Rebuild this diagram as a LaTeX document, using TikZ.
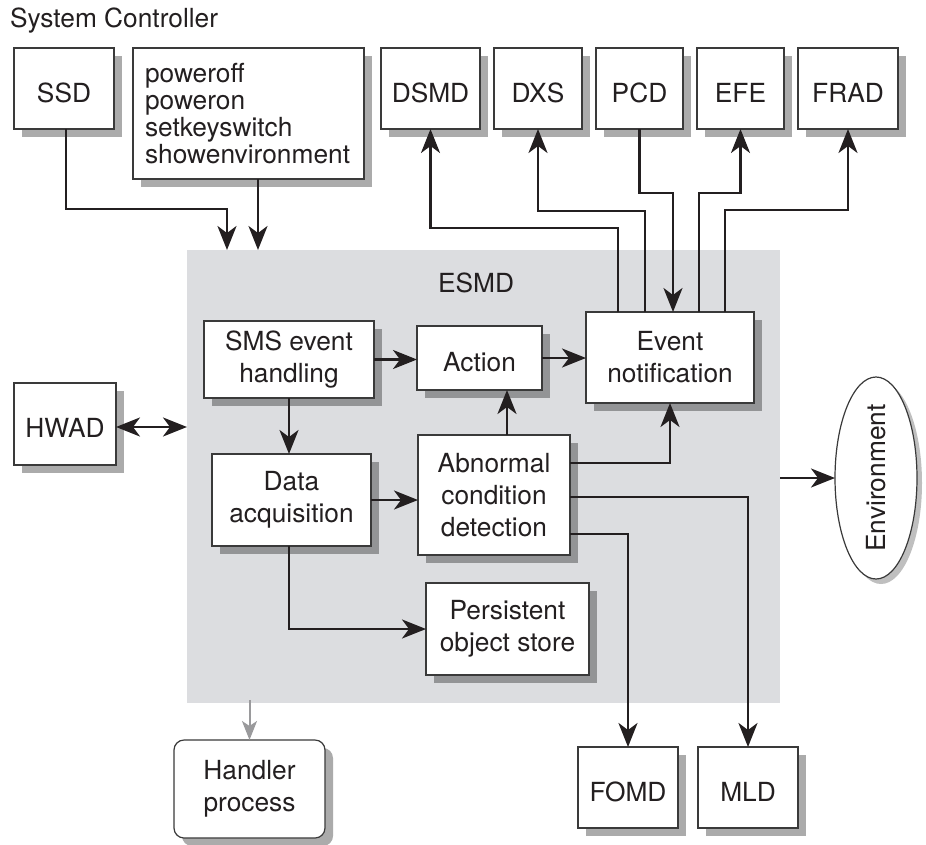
\documentclass[tikz,border=0pt]{standalone}
\usepackage{fontspec}
\setmainfont{TeX Gyre Heros}
\usetikzlibrary{arrows.meta,shadows,shapes.geometric}
\definecolor{ink}{HTML}{231F20}
\definecolor{esmdgray}{HTML}{DCDDE0}
\definecolor{boxline}{HTML}{3A3A3A}
\definecolor{handarrow}{HTML}{9A9A9C}
\begin{document}
\begin{tikzpicture}[x=1pt,y=-1pt,
  txt/.style={font=\fontsize{26.3}{32}\selectfont, text=ink, inner sep=0pt, outer sep=0pt},
  blk/.style={txt, draw=boxline, line width=1.2pt, fill=white, align=center,
    drop shadow={shadow xshift=8pt, shadow yshift=-8pt, fill=black, opacity=0.33}},
  oneline/.style={text height=27pt, text depth=0pt},
  conn/.style={draw=ink, line width=2.5pt, -{Stealth[length=24pt,width=19pt,inset=7pt]}},
  conn2/.style={draw=ink, line width=2.5pt, {Stealth[length=24pt,width=19pt,inset=7pt]}-{Stealth[length=24pt,width=19pt,inset=7pt]}},
  hconn/.style={draw=handarrow, line width=2pt, -{Stealth[length=19pt,width=15pt,inset=5pt]}},
]
\useasboundingbox (0,0) rectangle (926,844);

% ESMD region
\node[fill=esmdgray, minimum width=593pt, minimum height=453pt, inner sep=0pt, outer sep=0pt, anchor=north west] (esmd) at (187,250) {};
\node[txt] (esmdlabel) at (476,283) {ESMD};

% System controller
\node[txt, anchor=base west] (sc) at (10,27) {System Controller};
\node[blk, oneline, minimum width=100pt, minimum height=81pt] (ssd) at (64,88.5) {SSD};
\node[blk, minimum width=231pt, minimum height=131pt, text width=207pt, align=left,
  font=\fontsize{26.3}{27}\selectfont] (cmd) at (248.5,113.5) {poweroff\\poweron\\setkeyswitch\\showenvironment};

% top row
\node[blk, oneline, minimum width=99pt, minimum height=81pt] (dsmd) at (430.5,88.5) {DSMD};
\node[blk, oneline, minimum width=88pt, minimum height=81pt] (dxs) at (538,88.5) {DXS};
\node[blk, oneline, minimum width=87pt, minimum height=81pt] (pcd) at (639.5,88.5) {PCD};
\node[blk, oneline, minimum width=87pt, minimum height=81pt] (efe) at (740.5,88.5) {EFE};
\node[blk, oneline, minimum width=100pt, minimum height=81pt] (frad) at (848,88.5) {FRAD};

% left
\node[blk, oneline, minimum width=102pt, minimum height=82pt] (hwad) at (65,424) {HWAD};

% inside ESMD
\node[blk, minimum width=170pt, minimum height=77pt] (sms) at (289,359.5) {SMS event\\handling};
\node[blk, oneline, minimum width=125pt, minimum height=64pt] (act) at (479.5,358) {Action};
\node[blk, minimum width=168pt, minimum height=91pt] (evt) at (670,357.5) {Event\\notification};
\node[blk, minimum width=159pt, minimum height=92pt] (data) at (291.5,500) {Data\\acquisition};
\node[blk, minimum width=152pt, minimum height=120pt] (abn) at (494,495) {Abnormal\\condition\\detection};
\node[blk, minimum width=163pt, minimum height=92pt] (pos) at (507.5,629) {Persistent\\object store};

% bottom
\node[blk, rounded corners=10pt, minimum width=151pt, minimum height=98pt] (handler) at (249.5,789) {Handler\\process};
\node[blk, oneline, minimum width=100pt, minimum height=81pt] (fomd) at (628,787.5) {FOMD};
\node[blk, oneline, minimum width=100pt, minimum height=81pt] (mld) at (748,787.5) {MLD};

% environment
\node[ellipse, draw=boxline, line width=1.2pt, fill=white, minimum width=82pt, minimum height=202pt, inner sep=0pt, outer sep=0pt,
  drop shadow={shadow xshift=5pt, shadow yshift=-5pt, fill=black, opacity=0.25}] (env) at (876,478) {};
\node[txt, rotate=90] (envlabel) at (env.center) {Environment};

% connectors: system controller
\draw[conn] (66,0 |- ssd.south) |- (227,209) -- (227,0 |- esmd.north);
\draw[conn] (258,0 |- cmd.south) -- (258,0 |- esmd.north);

% event notification to top row
\draw[conn] (618,0 |- evt.north) |- (dsmd.south |- 0,228) -- (dsmd.south);
\draw[conn] (645,0 |- evt.north) |- (dxs.south |- 0,211) -- (dxs.south);
\draw[conn] (pcd.south) |- (673,193) -- (673,0 |- evt.north);
\draw[conn] (699,0 |- evt.north) |- (efe.south |- 0,193) -- (efe.south);
\draw[conn] (725,0 |- evt.north) |- (frad.south |- 0,210) -- (frad.south);

% HWAD
\draw[conn2] (hwad.east |- 0,427) -- (esmd.west |- 0,427);

% internal
\draw[conn] (sms.east) -- (sms.east -| act.west);
\draw[conn] (act.east) -- (act.east -| evt.west);
\draw[conn] (sms.south) -- (sms.south |- data.north);
\draw[conn] (data.east) -- (data.east -| abn.west);
\draw[conn] (507,0 |- abn.north) -- (507,0 |- act.south);
\draw[conn] (abn.east |- 0,463) -| (evt.south);
\draw[conn] (abn.east |- 0,497) -| (mld.north);
\draw[conn] (abn.east |- 0,534) -| (fomd.north);
\draw[conn] (289,0 |- data.south) |- (pos.west);

% out of ESMD
\draw[hconn] (handler.north |- 0,700) -- (handler.north);
\draw[conn] (env.west -| esmd.east) -- (env.west);
\end{tikzpicture}
\end{document}
